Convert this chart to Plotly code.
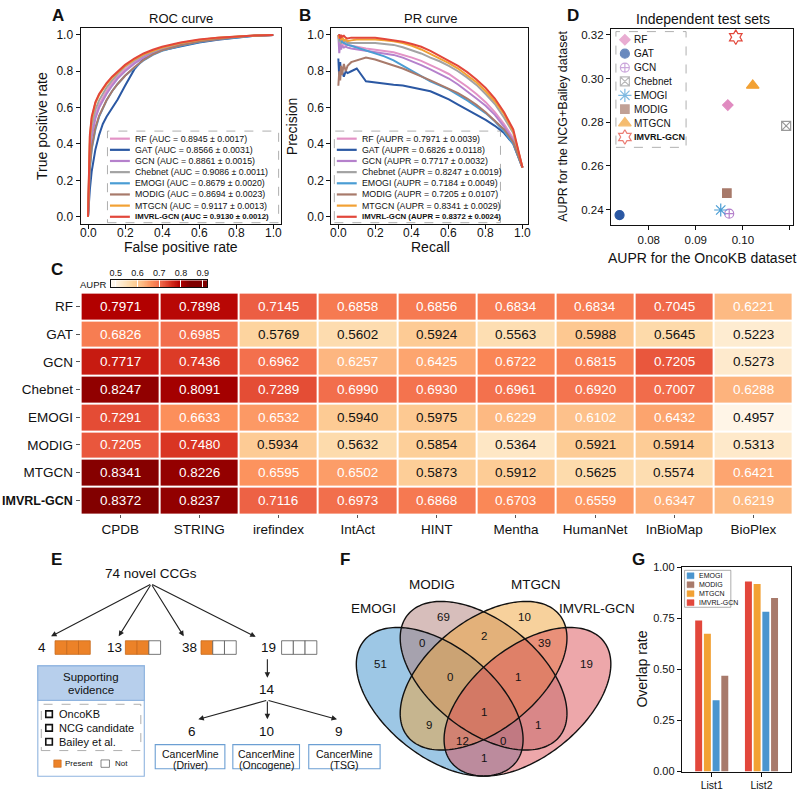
import numpy as np
import plotly.graph_objects as go

W, H = 800, 794
FONT = "Liberation Sans, Arial, Helvetica, sans-serif"
INK = "#111111"

# ---------------- data ----------------
MODELS = ["RF", "GAT", "GCN", "Chebnet", "EMOGI", "MODIG", "MTGCN", "IMVRL-GCN"]
MODEL_COLORS = ["#e393c6", "#2b58a3", "#b581cc", "#a3a3a3", "#4a9dd4", "#a87a6b", "#f2a134", "#e2473b"]

AUC_TEXT = ["0.8945 ± 0.0017", "0.8566 ± 0.0031", "0.8861 ± 0.0015", "0.9086 ± 0.0011",
            "0.8679 ± 0.0020", "0.8694 ± 0.0023", "0.9117 ± 0.0013", "0.9130 ± 0.0012"]
AUPR_TEXT = ["0.7971 ± 0.0039", "0.6826 ± 0.0118", "0.7717 ± 0.0032", "0.8247 ± 0.0019",
             "0.7184 ± 0.0049", "0.7205 ± 0.0107", "0.8341 ± 0.0029", "0.8372 ± 0.0024"]

# ROC curves (panel A)
FPR = [0, 0.005, 0.01, 0.02, 0.04, 0.06, 0.08, 0.1, 0.13, 0.16, 0.2, 0.25, 0.3, 0.35, 0.4, 0.5, 0.6, 0.7, 0.8, 0.9, 1.0]
TPR_RF = [0, 0.27, 0.36, 0.46, 0.56, 0.615, 0.655, 0.69, 0.735, 0.77, 0.81, 0.85, 0.88, 0.903, 0.922, 0.948, 0.967, 0.98, 0.99, 0.996, 1.0]
TPR_GAT = [0, 0.08, 0.15, 0.25, 0.37, 0.45, 0.51, 0.55, 0.6, 0.645, 0.72, 0.81, 0.87, 0.9, 0.915, 0.937, 0.958, 0.973, 0.986, 0.995, 1.0]
TPR_GCN = [0, 0.25, 0.34, 0.44, 0.54, 0.6, 0.64, 0.675, 0.72, 0.76, 0.8, 0.842, 0.875, 0.9, 0.92, 0.946, 0.965, 0.979, 0.989, 0.996, 1.0]
TPR_CHEBNET = [0, 0.3, 0.4, 0.5, 0.59, 0.64, 0.675, 0.71, 0.75, 0.785, 0.825, 0.86, 0.888, 0.91, 0.928, 0.953, 0.971, 0.983, 0.991, 0.997, 1.0]
TPR_EMOGI = [0, 0.18, 0.26, 0.37, 0.48, 0.55, 0.6, 0.64, 0.69, 0.73, 0.775, 0.82, 0.86, 0.89, 0.912, 0.94, 0.961, 0.976, 0.987, 0.995, 1.0]
TPR_MODIG = [0, 0.2, 0.28, 0.38, 0.49, 0.555, 0.6, 0.64, 0.69, 0.73, 0.775, 0.822, 0.862, 0.893, 0.915, 0.943, 0.963, 0.977, 0.988, 0.996, 1.0]
TPR_MTGCN = [0, 0.33, 0.44, 0.54, 0.625, 0.67, 0.70, 0.73, 0.765, 0.795, 0.83, 0.865, 0.893, 0.913, 0.93, 0.955, 0.972, 0.984, 0.992, 0.997, 1.0]
TPR_IMVRL = [0, 0.35, 0.45, 0.55, 0.63, 0.675, 0.705, 0.735, 0.77, 0.8, 0.835, 0.87, 0.898, 0.918, 0.935, 0.958, 0.975, 0.985, 0.992, 0.997, 1.0]

# PR curves (panel B)
RECALL = [0.0, 0.005, 0.01, 0.015, 0.02, 0.03, 0.04, 0.05, 0.07, 0.1, 0.15, 0.2, 0.25, 0.3, 0.35,
          0.4, 0.45, 0.5, 0.55, 0.6, 0.65, 0.7, 0.75, 0.8, 0.85, 0.9, 0.95, 1.0]
PREC_RF = [1.0, 0.95, 0.93, 0.96, 0.94, 0.95, 0.945, 0.945, 0.94, 0.935, 0.925, 0.92, 0.912, 0.905, 0.892,
           0.875, 0.857, 0.835, 0.81, 0.785, 0.752, 0.715, 0.675, 0.63, 0.575, 0.51, 0.43, 0.27]
PREC_GAT = [0.87, 0.76, 0.85, 0.78, 0.8, 0.77, 0.8, 0.79, 0.8, 0.815, 0.745, 0.738, 0.73, 0.726, 0.722,
            0.712, 0.703, 0.69, 0.668, 0.645, 0.617, 0.59, 0.562, 0.532, 0.5, 0.46, 0.4, 0.27]
PREC_GCN = [1.0, 0.9, 0.95, 0.92, 0.94, 0.93, 0.935, 0.93, 0.925, 0.92, 0.912, 0.905, 0.898, 0.89, 0.875,
            0.855, 0.834, 0.81, 0.785, 0.76, 0.727, 0.69, 0.65, 0.61, 0.56, 0.495, 0.42, 0.27]
PREC_CHEBNET = [1.0, 0.96, 0.99, 0.95, 0.97, 0.96, 0.965, 0.955, 0.955, 0.955, 0.955, 0.955, 0.95, 0.945, 0.932,
                0.915, 0.898, 0.875, 0.855, 0.83, 0.8, 0.765, 0.725, 0.675, 0.62, 0.545, 0.46, 0.27]
PREC_EMOGI = [1.0, 1.0, 0.97, 0.98, 0.96, 0.955, 0.95, 0.945, 0.94, 0.93, 0.915, 0.9, 0.882, 0.86, 0.832,
              0.8, 0.772, 0.745, 0.722, 0.7, 0.67, 0.64, 0.605, 0.57, 0.525, 0.47, 0.4, 0.27]
PREC_MODIG = [0.72, 0.8, 0.75, 0.83, 0.78, 0.84, 0.8, 0.83, 0.85, 0.86, 0.875, 0.865, 0.85, 0.832, 0.815,
              0.795, 0.772, 0.75, 0.728, 0.705, 0.68, 0.65, 0.615, 0.575, 0.53, 0.48, 0.41, 0.27]
PREC_MTGCN = [1.0, 0.98, 1.0, 0.97, 0.99, 0.97, 0.975, 0.965, 0.97, 0.975, 0.975, 0.975, 0.97, 0.965, 0.955,
              0.94, 0.92, 0.895, 0.87, 0.845, 0.815, 0.78, 0.74, 0.69, 0.635, 0.565, 0.47, 0.27]
PREC_IMVRL = [1.0, 1.0, 0.98, 1.0, 0.99, 0.995, 0.985, 0.98, 0.985, 0.985, 0.985, 0.984, 0.978, 0.972, 0.962,
              0.95, 0.935, 0.912, 0.885, 0.858, 0.83, 0.795, 0.755, 0.708, 0.65, 0.575, 0.48, 0.27]

# independent test sets (panel D)
ONCOKB_AUPR = [0.0968, 0.0738, 0.0971, 0.1092, 0.0953, 0.0966, 0.1021, 0.0985]
NCG_BAILEY_AUPR = [0.2878, 0.2375, 0.2381, 0.2783, 0.2398, 0.2475, 0.2968, 0.3189]

# AUPR over PPI networks (panel C)
NETWORKS = ["CPDB", "STRING", "irefindex", "IntAct", "HINT", "Mentha", "HumanNet", "InBioMap", "BioPlex"]
AUPR_RF = [0.7971, 0.7898, 0.7145, 0.6858, 0.6856, 0.6834, 0.6834, 0.7045, 0.6221]
AUPR_GAT = [0.6826, 0.6985, 0.5769, 0.5602, 0.5924, 0.5563, 0.5988, 0.5645, 0.5223]
AUPR_GCN = [0.7717, 0.7436, 0.6962, 0.6257, 0.6425, 0.6722, 0.6815, 0.7205, 0.5273]
AUPR_CHEBNET = [0.8247, 0.8091, 0.7289, 0.6990, 0.6930, 0.6961, 0.6920, 0.7007, 0.6288]
AUPR_EMOGI = [0.7291, 0.6633, 0.6532, 0.5940, 0.5975, 0.6229, 0.6102, 0.6432, 0.4957]
AUPR_MODIG = [0.7205, 0.7480, 0.5934, 0.5632, 0.5854, 0.5364, 0.5921, 0.5914, 0.5313]
AUPR_MTGCN = [0.8341, 0.8226, 0.6595, 0.6502, 0.5873, 0.5912, 0.5625, 0.5574, 0.6421]
AUPR_IMVRL = [0.8372, 0.8237, 0.7116, 0.6973, 0.6868, 0.6703, 0.6559, 0.6347, 0.6219]
CBAR_TICKS = [0.5, 0.6, 0.7, 0.8, 0.9]

# novel CCGs (panel E)
NOVEL_TOTAL = 74
EVIDENCE_COUNTS = [4, 13, 38, 19]
EVIDENCE_PRESENT = [3, 2, 1, 0]
EVIDENCE_SOURCES = ["OncoKB", "NCG candidate", "Bailey et al."]
CANCERMINE_TOTAL = 14
CANCERMINE_COUNTS = [6, 10, 9]
CANCERMINE_TYPES = ["Driver", "Oncogene", "TSG"]

# Venn (panel F): A=EMOGI, B=MODIG, C=MTGCN, D=IMVRL-GCN
VENN_SETS = ["EMOGI", "MODIG", "MTGCN", "IMVRL-GCN"]
VENN_REGIONS = ["A", "B", "C", "D", "AB", "BC", "CD", "ABC", "BCD", "ABCD", "AC", "BD", "ACD", "ABD", "AD"]
VENN_COUNTS = [51, 69, 10, 19, 0, 2, 39, 0, 1, 1, 9, 1, 12, 0, 1]

# overlap rates (panel G)
LISTS = ["List1", "List2"]
OVERLAP_IMVRL = [0.740, 0.931]
OVERLAP_MTGCN = [0.675, 0.919]
OVERLAP_EMOGI = [0.349, 0.783]
OVERLAP_MODIG = [0.469, 0.850]


# ---------------- helpers (pixel -> paper) ----------------
def fx(x):
    return x / W


def fy(y):
    return 1 - y / H


def dom_x(x0, x1):
    return [x0 / W, x1 / W]


def dom_y(y0, y1):
    return [1 - y1 / H, 1 - y0 / H]


annotations = []
shapes = []


def text(x, y, s, size=12, bold=False, anchor="center", angle=0, color=INK):
    annotations.append(dict(
        x=fx(x), y=fy(y), xref="paper", yref="paper", showarrow=False,
        text=f"<b>{s}</b>" if bold else s, textangle=angle,
        xanchor=anchor, yanchor="middle",
        font=dict(family=FONT, size=size, color=color)))


def rect(x0, y0, x1, y1, fill="rgba(0,0,0,0)", line="#333", width=1.0, dash="solid", layer="above"):
    shapes.append(dict(type="rect", xref="paper", yref="paper", x0=fx(x0), x1=fx(x1), y0=fy(y1), y1=fy(y0),
                       fillcolor=fill, line=dict(color=line, width=width, dash=dash), layer=layer))


def seg(x0, y0, x1, y1, color=INK, width=1.0):
    shapes.append(dict(type="line", xref="paper", yref="paper", x0=fx(x0), x1=fx(x1), y0=fy(y0), y1=fy(y1),
                       line=dict(color=color, width=width), layer="above"))


def arrow(tx, ty, hx, hy):
    annotations.append(dict(
        x=fx(hx), y=fy(hy), xref="paper", yref="paper", axref="pixel", ayref="pixel",
        ax=tx - hx, ay=ty - hy, text="", showarrow=True, arrowhead=2, arrowsize=1.0,
        arrowwidth=1.1, arrowcolor="#222", standoff=0, startstandoff=0))


def frame_axis(domain, rng, tickvals, fmt, anchor, size=12, labels=True):
    return dict(domain=domain, range=rng, anchor=anchor, tickvals=tickvals, tickformat=fmt,
                ticks="outside", ticklen=4, tickwidth=1, tickcolor=INK, showticklabels=labels,
                showline=True, linecolor=INK, linewidth=1.2, mirror=True,
                showgrid=False, zeroline=False, tickfont=dict(family=FONT, size=size, color=INK))


fig = go.Figure()

# ---------------- A: ROC ----------------
tpr_all = [TPR_RF, TPR_GAT, TPR_GCN, TPR_CHEBNET, TPR_EMOGI, TPR_MODIG, TPR_MTGCN, TPR_IMVRL]
for name, color, tpr in zip(MODELS, MODEL_COLORS, tpr_all):
    fig.add_trace(go.Scatter(x=FPR, y=tpr, mode="lines", line=dict(color=color, width=2),
                             name=name, xaxis="x", yaxis="y", showlegend=False))

# ---------------- B: PR ----------------
prec_all = [PREC_RF, PREC_GAT, PREC_GCN, PREC_CHEBNET, PREC_EMOGI, PREC_MODIG, PREC_MTGCN, PREC_IMVRL]
for name, color, prec in zip(MODELS, MODEL_COLORS, prec_all):
    fig.add_trace(go.Scatter(x=RECALL, y=prec, mode="lines", line=dict(color=color, width=2),
                             name=name, xaxis="x2", yaxis="y2", showlegend=False))

unit_ticks = [0, 0.2, 0.4, 0.6, 0.8, 1.0]
# x tick labels of A and B sit tight under the frame
for v in unit_ticks:
    annotations.append(dict(x=v, y=fy(230), xref="x", yref="paper", text=f"{v:.1f}", showarrow=False,
                            font=dict(family=FONT, size=12, color=INK), yanchor="middle"))
    annotations.append(dict(x=v, y=fy(230), xref="x2", yref="paper", text=f"{v:.1f}", showarrow=False,
                            font=dict(family=FONT, size=12, color=INK), yanchor="middle"))


def curve_legend(x0, x1, y0, y1, lx0, lx1, tx, metric, values):
    rect(x0, y0, x1, y1, fill="rgba(255,255,255,0.85)", line="#9a9a9a", width=0.8, dash="dash")
    for i, (name, color, val) in enumerate(zip(MODELS, MODEL_COLORS, values)):
        yy = 134.7 + i * 11.33
        seg(lx0, yy, lx1, yy, color=color, width=2.2)
        label = f"{name} ({metric} = {val})"
        if name == "IMVRL-GCN":
            text(tx, yy, label, size=7.8, bold=True, anchor="left")
        else:
            text(tx, yy, label, size=8.8, anchor="left")


curve_legend(106, 278, 127, 220, 108.5, 128.5, 131.5, "AUC", AUC_TEXT)
curve_legend(334, 501, 127, 220, 336.5, 356.5, 359.5, "AUPR", AUPR_TEXT)

# ---------------- D: independent test sets ----------------
D_SYMBOLS = ["diamond", "circle", "circle-cross-open", "square-x-open", "asterisk-open", "square", "triangle-up", "hexagram-open"]
D_SIZES = [8, 9, 9, 9, 11, 8.5, 11, 11]
D_COLORS = ["#e08bc0", "#2b58a3", "#b581cc", "#9a9a9a", "#4a9dd4", "#a87a6b", "#f2a134", "#e2473b"]
for i, name in enumerate(MODELS):
    fig.add_trace(go.Scatter(x=[ONCOKB_AUPR[i]], y=[NCG_BAILEY_AUPR[i]], mode="markers", name=name,
                             marker=dict(symbol=D_SYMBOLS[i], size=D_SIZES[i], color=D_COLORS[i],
                                         line=dict(color=D_COLORS[i], width=1.2)),
                             xaxis="x3", yaxis="y3", showlegend=False))

# legend of D drawn on a full-figure pixel overlay
leg_y = [34.3 + i * 14.1 for i in range(len(MODELS))]
fig.add_trace(go.Scatter(x=[626] * len(MODELS), y=leg_y, mode="markers",
                         marker=dict(symbol=D_SYMBOLS, size=D_SIZES, color=D_COLORS,
                                     line=dict(color=D_COLORS, width=1.2)),
                         xaxis="x7", yaxis="y7", showlegend=False, hoverinfo="skip"))
rect(617, 26, 687.5, 143.5, line="#9a9a9a", width=0.8, dash="dash")
for name, yy in zip(MODELS, leg_y):
    text(633.5, yy, name, size=10 if name != "IMVRL-GCN" else 9, bold=(name == "IMVRL-GCN"), anchor="left")

# ---------------- C: heatmap ----------------
aupr_rows = [AUPR_RF, AUPR_GAT, AUPR_GCN, AUPR_CHEBNET, AUPR_EMOGI, AUPR_MODIG, AUPR_MTGCN, AUPR_IMVRL]
fig.add_trace(go.Heatmap(z=aupr_rows, x=NETWORKS, y=MODELS, colorscale="OrRd", zmin=0.49, zmax=0.84,
                         xgap=2, ygap=2, showscale=False, xaxis="x4", yaxis="y4", hoverinfo="skip"))
for model, row in zip(MODELS, aupr_rows):
    for net, v in zip(NETWORKS, row):
        annotations.append(dict(x=net, y=model, xref="x4", yref="y4", text=f"{v:.4f}", showarrow=False,
                                font=dict(family=FONT, size=13.5, color="white" if v >= 0.6 else INK)))

cbar = np.linspace(0.48, 0.92, 160)
fig.add_trace(go.Heatmap(z=[cbar], x=cbar, y=[0], colorscale="OrRd", zmin=0.49, zmax=0.84,
                         showscale=False, xaxis="x5", yaxis="y5", hoverinfo="skip"))
text(107.5, 283, "AUPR", size=9.5, anchor="right")

# ---------------- E: novel CCGs flow ----------------
text(150, 576, f"{NOVEL_TOTAL} novel CCGs", size=13.5)
E_HEADS = [(49.3, 640), (117.3, 640), (182.7, 640), (255, 640.5)]
E_NUM_X = [40, 113, 188, 268]
E_BOX_X = [53.3, 124, 200, 281]
SQ_W, SQ_Y0, SQ_Y1 = 11.8, 644.5, 658.3
for (hx, hy), nx, bx, cnt, pres in zip(E_HEADS, E_NUM_X, E_BOX_X, EVIDENCE_COUNTS, EVIDENCE_PRESENT):
    arrow(150, 587.5, hx, hy)
    text(nx, 651.5, str(cnt), size=13.5)
    for k in range(3):
        filled = k < pres
        rect(bx + k * SQ_W, SQ_Y0, bx + (k + 1) * SQ_W, SQ_Y1,
             fill="#ec8228" if filled else "white", line="#c86a1c" if filled else "#555", width=0.8)

arrow(266.7, 662, 266.7, 682)
text(266.7, 694, str(CANCERMINE_TOTAL), size=13.5)
CM_HEADS = [(197.3, 724.3), (266.7, 724.3), (336.7, 724.3)]
CM_NUM_X = [191, 266, 339]
CM_BOXES = [(154, 224), (232, 299), (308.3, 380)]
for (hx, hy), nx, (b0, b1), cnt, kind in zip(CM_HEADS, CM_NUM_X, CM_BOXES, CANCERMINE_COUNTS, CANCERMINE_TYPES):
    arrow(266.7, 705, hx, hy)
    text(nx, 737, str(cnt), size=13.5)
    rect(b0, 750, b1, 774.5, fill="white", line="#6c9fd3", width=1.1)
    text((b0 + b1) / 2, 759, "CancerMine", size=10.5)
    text((b0 + b1) / 2, 770.5, f"({kind})", size=10.5)

# supporting-evidence legend
rect(36, 670, 143, 782, fill="white", line="#8fb4df", width=1.1)
rect(36, 670, 143, 705, fill="#b7cfec", line="#8fb4df", width=1.1)
text(89.5, 681, "Supporting", size=11.5)
text(89.5, 694, "evidence", size=11.5)
rect(39.5, 709, 139.5, 756, line="#9a9a9a", width=0.8, dash="dash")
for i, src in enumerate(EVIDENCE_SOURCES):
    yy = 719 + i * 14
    rect(44, yy - 3.3, 50.6, yy + 3.3, fill="white", line=INK, width=1.6)
    text(55, yy, src, size=11, anchor="left")
rect(52, 765.5, 59.5, 773, fill="#ec8228", line="#c86a1c", width=0.6)
text(61.5, 769.5, "Present", size=8, anchor="left")
rect(99.5, 765.5, 108, 773, fill="white", line="#555", width=0.7)
text(111.5, 769.5, "Not", size=8, anchor="left")

# ---------------- F: Venn ----------------
VENN_CENTERS = [(0.35, 0.47), (0.5, 0.57), (0.5, 0.57), (0.65, 0.47)]
VENN_ANGLES = [135, 135, 45, 45]
VENN_FILLS = ["#3c8fcc", "#b07e78", "#f0a33a", "#dc4f56"]
VENN_A, VENN_B = 0.35, 0.2
VX0, VY0, VSX, VSY = 484, 680, 294, 264.7


def venn_path(cx, cy, ang):
    t = np.linspace(0, 2 * np.pi, 181)
    ca, sa = np.cos(np.radians(ang)), np.sin(np.radians(ang))
    ux = cx + VENN_A * np.cos(t) * ca - VENN_B * np.sin(t) * sa
    uy = cy + VENN_A * np.cos(t) * sa + VENN_B * np.sin(t) * ca
    px_ = VX0 + (ux - 0.5) * VSX
    py_ = VY0 - (uy - 0.57) * VSY
    return "M " + " L ".join(f"{fx(a):.5f},{fy(b):.5f}" for a, b in zip(px_, py_)) + " Z"


venn_paths = [venn_path(c[0], c[1], a) for c, a in zip(VENN_CENTERS, VENN_ANGLES)]
for p, col in zip(venn_paths, VENN_FILLS):
    shapes.append(dict(type="path", xref="paper", yref="paper", path=p, fillcolor=col, opacity=0.5,
                       line=dict(width=0), layer="above"))
for p in venn_paths:
    shapes.append(dict(type="path", xref="paper", yref="paper", path=p, fillcolor="rgba(0,0,0,0)",
                       line=dict(color=INK, width=1.4), layer="above"))

VENN_LABEL_POS = [(373, 612), (432, 587.5), (537, 587.5), (598, 612)]
for name, (x, y) in zip(VENN_SETS, VENN_LABEL_POS):
    text(x, y, name, size=13.5)
VENN_POS = [(380, 668), (443.3, 620), (525, 620), (587, 668), (422.3, 646.7), (484, 640), (545, 646.7),
            (450, 681.7), (518.3, 681.7), (484, 717), (429, 730), (538.3, 730), (463.3, 746.7), (504, 746.7),
            (484, 763.5)]
for (x, y), c in zip(VENN_POS, VENN_COUNTS):
    text(x, y, str(c), size=11.5)

# ---------------- G: overlap bars ----------------
G_SERIES = [("IMVRL-GCN", OVERLAP_IMVRL, "#e2473b"), ("MTGCN", OVERLAP_MTGCN, "#f2a134"),
            ("EMOGI", OVERLAP_EMOGI, "#4a95cf"), ("MODIG", OVERLAP_MODIG, "#a87a6b")]
for name, vals, col in G_SERIES:
    fig.add_trace(go.Bar(x=LISTS, y=vals, name=name, marker=dict(color=col, line=dict(width=0)),
                         xaxis="x6", yaxis="y6", showlegend=False))
G_LEGEND = [("EMOGI", "#4a95cf"), ("MODIG", "#a87a6b"), ("MTGCN", "#f2a134"), ("IMVRL-GCN", "#e2473b")]
rect(686, 573, 732.5, 610.5, fill="white", line="#777", width=0.6)
for i, (name, col) in enumerate(G_LEGEND):
    yy = 578.5 + i * 9.1
    rect(688.5, yy - 3, 695.5, yy + 3, fill=col, line=col, width=0.5)
    text(698, yy, name, size=7, anchor="left")

# ---------------- titles, panel letters, axis titles ----------------
for letter, x, y in [("A", 56, 9.5), ("B", 305, 9.5), ("D", 574, 9.5), ("C", 55, 268),
                     ("E", 55, 562), ("F", 345, 562), ("G", 640, 562)]:
    text(x, y, letter, size=17, bold=True)
text(180, 12.5, "ROC curve", size=13)
text(431, 12.5, "PR curve", size=13)
text(705, 13, "Independent test sets", size=14)
text(180, 245, "False positive rate", size=14)
text(40, 122, "True positive rate", size=14, angle=-90)
text(431, 245, "Recall", size=14)
text(291.5, 122, "Precision", size=14, angle=-90)
text(704, 256, "AUPR for the OncoKB dataset", size=14)
text(563, 122.5, "AUPR for the NCG+Bailey dataset", size=12.5, angle=-90)
text(643, 673, "Overlap rate", size=14, angle=-90)

row_ticktext = [m if m != "IMVRL-GCN" else "<b><span style='font-size:12.5px'>IMVRL-GCN</span></b>" for m in MODELS]

layout = dict(
    width=W, height=H, margin=dict(l=0, r=0, t=0, b=0),
    paper_bgcolor="white", plot_bgcolor="rgba(0,0,0,0)",
    font=dict(family=FONT, size=12, color=INK), showlegend=False,
    xaxis=frame_axis(dom_x(79, 280), [-0.04, 1.04], unit_ticks, ".1f", "y", labels=False),
    yaxis=frame_axis(dom_y(22.7, 221.3), [-0.04, 1.036], unit_ticks, ".1f", "x"),
    xaxis2=frame_axis(dom_x(331, 529), [-0.038, 1.032], unit_ticks, ".1f", "y2", labels=False),
    yaxis2=frame_axis(dom_y(22.7, 221.3), [-0.04, 1.036], unit_ticks, ".1f", "x2"),
    xaxis3=frame_axis(dom_x(612, 795), [0.07197, 0.11066], [0.08, 0.09, 0.10, 0.11], ".2f", "y3", 11.5),
    yaxis3=frame_axis(dom_y(23, 222), [0.2331, 0.3228], [0.24, 0.26, 0.28, 0.30, 0.32], ".2f", "x3", 11.5),
    xaxis4=dict(domain=dom_x(79, 795), anchor="y4", ticks="outside", ticklen=3, tickcolor="#555",
                showline=False, showgrid=False, zeroline=False,
                tickfont=dict(family=FONT, size=13.5, color=INK)),
    yaxis4=dict(domain=dom_y(291, 516), anchor="x4", autorange="reversed", ticks="outside", ticklen=4,
                tickcolor="#555", showline=False, showgrid=False, zeroline=False,
                tickvals=MODELS, ticktext=row_ticktext,
                tickfont=dict(family=FONT, size=13.5, color=INK)),
    xaxis5=dict(domain=dom_x(110, 206), anchor="y5", side="top", range=[0.48, 0.92], tickvals=CBAR_TICKS,
                tickformat=".1f", ticks="inside", ticklen=7, tickcolor="white", showline=True, mirror=True,
                linecolor=INK, linewidth=0.8, showgrid=False, zeroline=False,
                tickfont=dict(family=FONT, size=9, color=INK)),
    yaxis5=dict(domain=dom_y(278.5, 285.5), anchor="x5", showticklabels=False, ticks="", showline=True,
                mirror=True, linecolor=INK, linewidth=0.8, showgrid=False, zeroline=False),
    xaxis6=dict(domain=dom_x(683.3, 793.3), anchor="y6", range=[-0.6, 1.6], ticks="outside", ticklen=4,
                tickcolor=INK, showline=True, mirror=True, linecolor=INK, linewidth=1.2, showgrid=False,
                tickfont=dict(family=FONT, size=10.5, color=INK)),
    yaxis6=frame_axis(dom_y(570, 777.3), [0, 1.0], [0, 0.25, 0.5, 0.75, 1.0], ".2f", "x6", 11),
    xaxis7=dict(domain=[0, 1], range=[0, W], anchor="y7", visible=False, fixedrange=True),
    yaxis7=dict(domain=[0, 1], range=[H, 0], anchor="x7", visible=False, fixedrange=True),
    barmode="group", bargap=0.3, bargroupgap=0.2,
    annotations=annotations, shapes=shapes,
)
fig.update_layout(**layout)
# the page's default body margin would push the 800x794 figure off by 8px
fig.write_html("out.html", config={"displayModeBar": False},
               post_script="document.body.style.margin='0px';")
